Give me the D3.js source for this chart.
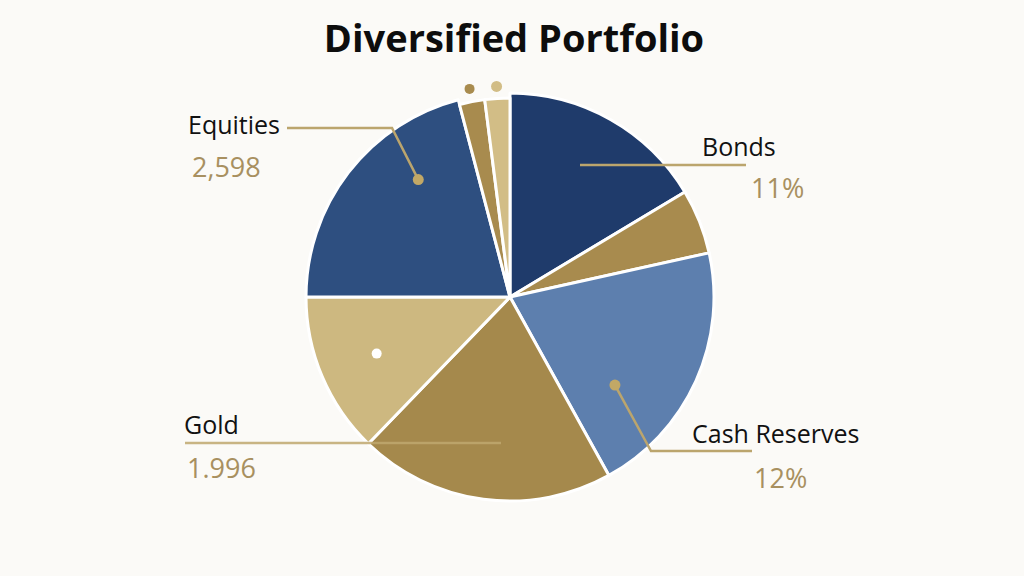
<!DOCTYPE html>
<html>
<head>
<meta charset="utf-8">
<script src="https://cdn.jsdelivr.net/npm/d3@7"></script>
<style>
  body { margin: 0; background: #fbfaf7; }
  svg { display: block; }
</style>
</head>
<body>
<div id="chart"></div>
<script>
// DATA
var sliceNames = ['Bonds', 'Alternatives', 'Cash Reserves', 'Gold', 'Real Estate', 'Equities', 'Commodities', 'Other']
var sliceValues = [59, 18.5, 73.5, 73, 46, 75.3, 7.4, 7.3]
var sliceColours = ['#1f3b6b', '#a88b4e', '#5d7fae', '#a5894c', '#cdb880', '#2e4f80', '#a88b4e', '#d2bd86']

// labelled slices: name, value text
var labelNames = ['Equities', 'Bonds', 'Gold', 'Cash Reserves']
var labelValues = ['2,598', '11%', '1.996', '12%']

// GLOBAL
var width = 1024
var height = 576
var cx = 510, cy = 297, radius = 204

var svg = d3.select('#chart').append('svg')
  .attr('width', width)
  .attr('height', height)

svg.append('rect')
  .attr('width', width)
  .attr('height', height)
  .style('fill', '#fbfaf7')

var gold = '#a89060'
var lineGold = '#bba56d'

// HELPERS
function pointAt(angleDeg, r) {
  var a = angleDeg * Math.PI / 180
  return [cx + r * Math.sin(a), cy - r * Math.cos(a)]
}

// PIE
var pie = d3.pie().sort(null).value(d => d)
var arcs = pie(sliceValues)
var arc = d3.arc().innerRadius(0).outerRadius(radius)

var gPie = svg.append('g')
  .attr('transform', 'translate(' + [cx, cy] + ')')

gPie.selectAll('path')
  .data(arcs)
  .enter().append('path')
  .attr('d', (d, i) => i >= 6 ? d3.arc().innerRadius(0).outerRadius(radius - 5)(d) : arc(d))
  .style('fill', (d, i) => sliceColours[i])
  .style('stroke', '#ffffff')
  .style('stroke-width', 3)
  .style('stroke-linejoin', 'round')

// little dots above the two thin slices
arcs.slice(6).forEach((d, i) => {
  var mid = (d.startAngle + d.endAngle) / 2 * 180 / Math.PI
  var p = pointAt(mid, i == 0 ? 212 : 211)
  svg.append('circle')
    .attr('cx', p[0]).attr('cy', p[1])
    .attr('r', i == 0 ? 5 : 5.5)
    .style('fill', sliceColours[6 + i])
})

// white dot in the tan slice
var tanMid = (arcs[4].startAngle + arcs[4].endAngle) / 2 * 180 / Math.PI
var pw = pointAt(tanMid, radius * 0.71)
svg.append('circle')
  .attr('cx', pw[0]).attr('cy', pw[1])
  .attr('r', 5)
  .style('fill', '#ffffff')

// LABELS
var labelFont = '"Open Sans", "Noto Sans", sans-serif'

function addLabel(name, value, tx, ty, vx, vy) {
  svg.append('text')
    .attr('x', tx).attr('y', ty)
    .text(name)
    .style('font-family', labelFont)
    .style('font-size', '25px')
    .style('fill', '#111111')
  svg.append('text')
    .attr('x', vx).attr('y', vy)
    .text(value)
    .style('font-family', labelFont)
    .style('font-size', '27px')
    .style('fill', gold)
}

function leader(points, dot) {
  svg.append('path')
    .attr('d', d3.line()(points))
    .style('fill', 'none')
    .style('stroke', lineGold)
    .style('stroke-width', 2.5)
  if (dot) {
    svg.append('circle')
      .attr('cx', dot[0]).attr('cy', dot[1])
      .attr('r', 5.5)
      .style('fill', '#c2a866')
  }
}

// Equities
var eqDot = pointAt(322, 149)
leader([[287, 128], [392, 128], eqDot], eqDot)
addLabel(labelNames[0], labelValues[0], 188, 134, 192, 177)

// Bonds
leader([[580, 165], [746, 165]])
addLabel(labelNames[1], labelValues[1], 702, 156, 751, 198)

// Gold
svg.append('line')
  .attr('x1', 185).attr('y1', 443)
  .attr('x2', 501).attr('y2', 443)
  .style('stroke', '#c0a86f')
  .style('stroke-width', 2.5)
  .style('opacity', 0.85)
addLabel(labelNames[2], labelValues[2], 184, 434, 187, 478)

// Cash Reserves
var cashDot = pointAt(130, 137)
leader([cashDot, [651, 451], [752, 451]], cashDot)
addLabel(labelNames[3], labelValues[3], 692, 443, 754, 488)

// TITLE
svg.append('text')
  .attr('x', 514)
  .attr('y', 52)
  .attr('text-anchor', 'middle')
  .text('Diversified Portfolio')
  .style('font-family', labelFont)
  .style('font-weight', 700)
  .style('font-size', '38px')
  .style('fill', '#0d0d0d')
</script>
</body>
</html>
